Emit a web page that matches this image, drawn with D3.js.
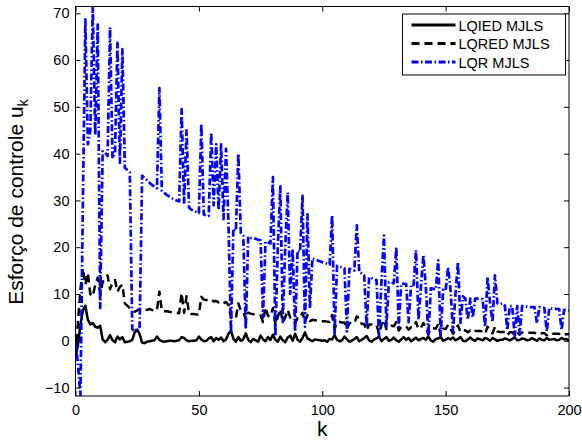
<!DOCTYPE html>
<html>
<head>
<meta charset="utf-8">
<script src="https://cdnjs.cloudflare.com/ajax/libs/d3/7.8.5/d3.min.js"></script>
<style>
  body { margin: 0; background: #fff; }
  svg text { font-family: "Liberation Sans", Arial, Helvetica, sans-serif; fill: #000; }
</style>
</head>
<body>
<div id="chart"></div>
<script>
// control effort per step k = 0..200
var lqied = [
  -3.5, -1, 3.5, 6.5, 7.5, 4.5, 3.5, 3.8, 3, 2.8,
  3.2, 0.3, -0.3, 0.2, 1.2, 0.1, -0.3, 0.9, 0.3, 0.8,
  -0.3, -0.2, -0.1, 0.2, 1.8, 2.4, 1.4, -0.4, -0.5, -0.2,
  -0.1, 0, 0.1, 0.9, 0.2, -0.1, -0.2, -0.1, 0, 0,
  -0.1, 0, 0.1, 0.8, 0.6, 0.1, -0.1, 0, 0, 0.1,
  0.9, 0.3, -0.1, 0, 0.5, 0.8, -0.1, 0.6, 0.2, 0.7,
  -0.1, 0.3, 1.5, 2.2, 0.4, -0.2, 0.8, 0, 0.3, 1.6,
  0.2, -0.3, 0.4, 0.1, -0.2, 1.1, 0.3, -0.1, 0.8, 0.2,
  1.3, 0.2, -0.2, 0.9, 0.1, -0.3, 0.7, 1.1, 0, 1.5,
  0.2, -0.2, 0.6, 1.8, 0.5, 0.2, -0.1, 0.3, 0.2, 0.1,
  0, 0.1, -0.2, 0.4, 0.3, 1.2, 0.2, -0.1, 0.1, 0.9,
  0.3, -0.2, 0, 0.4, 0.8, -0.1, 0.2, 0.6, 1, 0.1,
  -0.2, 0.3, 0.5, 0.9, -0.1, 0.4, 0.8, 0, 0.2, 0.7,
  0.1, -0.2, 0.3, 0.8, 0.2, 0.6, -0.1, 0.3, 0.7, 0.1,
  0.4, 0.6, 0.2, 0.9, 0.1, -0.2, 0.4, 0.5, 0.8, 0,
  0.2, 0.6, 0.3, 0.7, 0.1, 0.4, 0.8, 0, -0.1, 0.3,
  0.7, 0.2, 0, 0.5, 0.3, 0.1, 0.6, 0.4, 0, 0.6,
  0.3, 0, 0.2, 0.2, 0.5, 0.3, 0.1, 0.4, 0.7, 0.1,
  0.2, 0.5, 0.4, 0.1, 0.2, 0.6, 0.3, 0, 0.5, 0.2,
  0.1, 0.6, 0.2, 0.3, 0.4, 0.1, 0.2, 0.6, 0.3, 0.4,
  0
];

var lqred = [
  -3, 4, 11, 15.5, 12, 14.5, 10, 9.5, 12, 13.5,
  10, 12.5, 13.5, 14, 11, 12.5, 13, 10.5, 11.5, 12,
  8, 7.5, 7, 6.5, 6.2, 6.5, 6.8, 6.7, 6.7, 6.6,
  6.8, 6.6, 6.5, 6.5, 10.5, 6.4, 6.3, 6.3, 6.2, 6.1,
  6, 6, 5.9, 10.2, 6, 9.5, 5.8, 5.7, 5.7, 5.6,
  5.6, 9.4, 8.8, 8.7, 8.6, 8.8, 8.4, 8.5, 8.2, 8.4,
  8, 8.3, 7.6, 5, 4.6, 4.8, 8, 6.5, 6.2, 4.5,
  6, 5.8, 5.7, 5.6, 5.5, 5.4, 4, 7.2, 5.3, 5.2,
  7, 3.5, 5.1, 6.8, 4, 5, 6.6, 5, 4.9, 3.8,
  4.8, 4.8, 6, 4, 5.5, 4.2, 4.5, 4.4, 4.4, 4.3,
  4.2, 4.2, 4.1, 4, 5.5, 2.5, 4, 4, 3.9, 3.9,
  2.5, 3.8, 3.8, 3.7, 5.2, 4.8, 3.6, 3.6, 2.2, 3.5,
  3.5, 3.4, 3.4, 1.5, 3.3, 4.5, 2.5, 3.2, 3.2, 3.1,
  4, 2.2, 3, 3, 3, 2.4, 2.9, 2.9, 4, 2.5,
  2.8, 3.8, 2.8, 1.4, 2.7, 2.7, 2.6, 3.6, 1.2, 2.6,
  2.5, 3.4, 2.5, 1.5, 2.4, 3.3, 1.9, 2.3, 2.2, 1.8,
  2.2, 1.8, 2.1, 2.1, 2.1, 2, 1.5, 3, 2, 1.6,
  3, 2, 1.9, 1.9, 1.9, 1.2, 1.8, 1.8, 1.2, 1.8,
  1.3, 1.8, 1.7, 1.7, 1.7, 1.7, 1.7, 1.4, 1.7, 1.6,
  1.6, 1.2, 1.6, 1.5, 1.5, 1.5, 1.5, 1.2, 1.4, 1.4,
  1.4
];

var lqr = [
  0, -5, -11.8, 30, 68.7, 42, 45, 71.4, 44, 67.6,
  7, 40.5, 40.3, 39.5, 67, 39, 40, 63.7, 38, 62.3,
  37, 36.5, 36, 2.5, 2, 2.5, 3, 35.3, 34.8, 34.3,
  33.8, 33.3, 33, 32.6, 54, 32, 31.6, 31.2, 30.8, 30.5,
  30.2, 30, 29.8, 49.5, 29.5, 45, 28.5, 28, 27.8, 27.5,
  27.3, 46.4, 27, 26.8, 26.7, 44.5, 29, 42, 28, 42,
  26, 41, 25, 1.7, 24, 23.5, 40, 23, 22.5, 2.5,
  22.3, 22, 22, 21.8, 21.6, 21.5, 5, 21.2, 21, 20.8,
  35, 1, 20.3, 33, 4, 20, 31.7, 10, 19.6, 2,
  19.3, 19, 31, 3, 27, 7, 17.6, 17.4, 17.2, 17,
  16.8, 16.6, 16.5, 16.3, 26.8, 1.5, 16, 15.8, 15.7, 15.5,
  2, 15.4, 15.2, 15, 24.7, 14.7, 14.4, 14, 3, 13.6,
  13.4, 13.2, 13, 1, 12.8, 22.5, 3, 12.5, 12.4, 12.3,
  20, 3, 12.2, 12.2, 12.1, 4, 12, 11.9, 19.4, 4.5,
  11.6, 18.3, 11.3, 1, 11.2, 11.1, 11, 17.2, 1, 10.9,
  10.8, 15.7, 10.9, 2, 10, 16.8, 3.8, 9.5, 9, 4.5,
  9, 5, 9, 9, 9, 8.9, 3, 13.6, 8, 4,
  14, 8, 7.8, 8, 7.5, 2.3, 7.4, 7.4, 1, 7.4,
  1.5, 7.4, 7.3, 7.3, 7.2, 7.2, 7.2, 3.8, 7.2, 7.1,
  7, 2, 7, 6.9, 6.9, 6.8, 6.8, 2.3, 6.6, 6.6,
  6.5
];

var seriesNames = ["LQIED MJLS", "LQRED MJLS", "LQR MJLS"];
var xTicks = [0, 50, 100, 150, 200];
var yTicks = [-10, 0, 10, 20, 30, 40, 50, 60, 70];

var W = 582, H = 441;
var margin = {top: 6.5, right: 13, bottom: 45, left: 75.5};
var width = W - margin.left - margin.right;
var height = H - margin.top - margin.bottom;

var svg = d3.select("#chart").append("svg")
  .attr("width", W)
  .attr("height", H);

var g = svg.append("g")
  .attr("transform", "translate(" + margin.left + "," + margin.top + ")");

var x = d3.scaleLinear().domain([0, 200]).range([0, width]);
var y = d3.scaleLinear().domain([-11.8, 71.45]).range([height, 0]);

g.append("clipPath").attr("id", "plotclip")
  .append("rect").attr("width", width).attr("height", height);

var line = d3.line()
  .x(function(d, i) { return x(i); })
  .y(function(d) { return y(d); });

var styles = [
  {data: lqied, color: "#000", dash: null, w: 2.5},
  {data: lqred, color: "#000", dash: "8,5", w: 2.5},
  {data: lqr, color: "#0000ff", dash: "7,2.5,1.5,2.5", w: 2.7}
];

var lines = g.append("g").attr("clip-path", "url(#plotclip)");
styles.forEach(function(s) {
  lines.append("path")
    .datum(s.data)
    .attr("d", line)
    .attr("fill", "none")
    .attr("stroke", s.color)
    .attr("stroke-width", s.w)
    .attr("stroke-linejoin", "round")
    .attr("stroke-dasharray", s.dash);
});

// axes, ticks pointing inward like matlab
function styleAxis(sel, showText) {
  sel.select(".domain").remove();
  sel.selectAll(".tick line").attr("stroke", "#000").attr("stroke-width", 1);
  sel.selectAll(".tick text")
    .attr("font-size", "14.5px")
    .attr("font-family", "Liberation Sans, Arial, sans-serif")
    .attr("fill", "#000")
    .style("display", showText ? null : "none");
}

g.append("g")
  .attr("transform", "translate(0," + height + ")")
  .call(d3.axisBottom(x).tickValues(xTicks).tickSizeInner(-5).tickSizeOuter(0).tickPadding(9))
  .call(styleAxis, true);
g.append("g")
  .call(d3.axisTop(x).tickValues(xTicks).tickSizeInner(-5).tickSizeOuter(0))
  .call(styleAxis, false);
g.append("g")
  .call(d3.axisLeft(y).tickValues(yTicks).tickSizeInner(-5).tickSizeOuter(0).tickPadding(6))
  .call(styleAxis, true);
g.append("g")
  .attr("transform", "translate(" + width + ",0)")
  .call(d3.axisRight(y).tickValues(yTicks).tickSizeInner(-5).tickSizeOuter(0))
  .call(styleAxis, false);

g.append("rect")
  .attr("width", width)
  .attr("height", height)
  .attr("fill", "none")
  .attr("stroke", "#000")
  .attr("stroke-width", 1);

// axis labels
svg.append("text")
  .attr("x", margin.left + width / 2)
  .attr("y", 436)
  .attr("text-anchor", "middle")
  .attr("font-size", "21px")
  .text("k");

var ylab = svg.append("text")
  .attr("transform", "translate(23,202) rotate(-90)")
  .attr("text-anchor", "middle")
  .attr("font-size", "21px");
ylab.append("tspan").text("Esforço de controle u");
ylab.append("tspan").attr("font-size", "14.5px").attr("dy", "5").text("k");

// legend
var leg = svg.append("g").attr("transform", "translate(402.5,14)");
leg.append("rect")
  .attr("width", 163)
  .attr("height", 61)
  .attr("fill", "#fff")
  .attr("stroke", "#000")
  .attr("stroke-width", 1);

styles.forEach(function(s, i) {
  var ly = 11 + i * 18.5;
  leg.append("line")
    .attr("x1", 9).attr("x2", 53)
    .attr("y1", ly).attr("y2", ly)
    .attr("stroke", s.color)
    .attr("stroke-width", s.w + 0.5)
    .attr("stroke-dasharray", s.dash);
  leg.append("text")
    .attr("x", 56)
    .attr("y", ly + 5.5)
    .attr("font-size", "14.5px")
    .text(seriesNames[i]);
});
</script>
</body>
</html>
